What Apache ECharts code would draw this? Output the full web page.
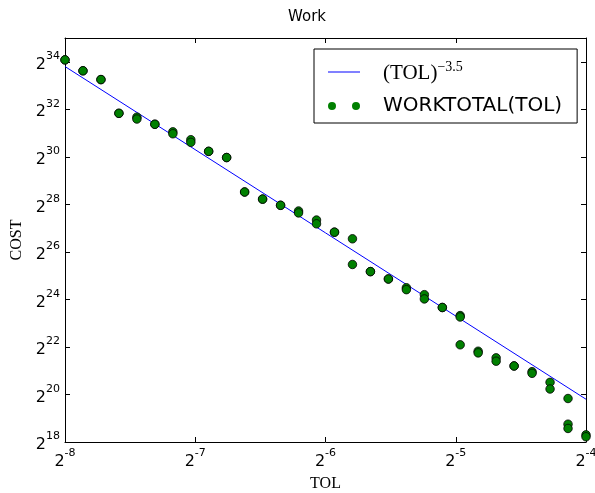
<!DOCTYPE html>
<html lang="en">

<head>
  <meta charset="UTF-8">
  <title>Work</title>
  <script src="https://cdn.jsdelivr.net/npm/echarts@6.0.0/dist/echarts.min.js"></script>
  <style>
    html,
    body {
      margin: 0;
      padding: 0;
      background-color: #fff;
    }

    #chart {
      width: 595px;
      height: 493px;
    }
  </style>
</head>

<body>
  <div id="chart"></div>
  <script>
    // log2 of TOL for each run point
    const tolExp = [-8, -7.862, -7.724, -7.586, -7.448, -7.31, -7.172, -7.034, -6.897, -6.759,
      -6.621, -6.483, -6.345, -6.207, -6.069, -5.931, -5.793, -5.655, -5.517, -5.379,
      -5.241, -5.103, -4.966, -4.828, -4.69, -4.552, -4.414, -4.276, -4.138, -4];
    // log2 of COST (three runs, null = no point)
    const costA = [34.08, 33.62, 33.25, 31.83, 31.67, 31.37, 31.05, 30.72, 30.23, 29.97,
      28.52, 28.22, 27.96, 27.72, 27.34, 26.83, 26.55, 25.17, 24.86, 24.49,
      24.2, 23.66, 23.32, 21.82, 21.54, 21.2, 20.96, 20.51, 19.83, 18.3];
    const costB = [34.08, 33.62, 33.25, 31.83, 31.59, 31.37, 30.97, 30.61, 30.23, 29.97,
      28.52, 28.22, 27.96, 27.64, 27.18, 26.83, 25.47, 25.17, 24.86, 24.41,
      24.02, 23.66, 23.26, 21.75, 21.4, 21.2, 20.89, 20.23, 18.75, 18.22];
    const costC = [null, null, null, null, null, null, null, null, null, null,
      null, null, null, null, null, null, null, null, null, null,
      null, null, 22.09, null, null, null, null, null, 18.57, null];
    // reference line (TOL)^-3.5, endpoints
    const lineTolExp = [-8, -4];
    const lineCostExp = [33.8, 19.8];

    const xTicksExp = [-8, -4];
    const yRangeExp = [18, 35];

    const lineName = '(TOL)^-3.5';
    const scatterName = 'WORKTOTAL(TOL)';

    const points = [];
    [costA, costB, costC].forEach(run => {
      run.forEach((c, i) => {
        if (c !== null) points.push([Math.pow(2, tolExp[i]), Math.pow(2, c)]);
      });
    });
    const linePoints = lineTolExp.map((e, i) => [Math.pow(2, e), Math.pow(2, lineCostExp[i])]);

    const sans = 'DejaVu Sans';
    const serif = 'Liberation Serif';

    const powLabel = v => '{b|2}{s|' + Math.round(Math.log2(v)) + '}';
    const labelRich = {
      b: { fontFamily: sans, fontSize: 16, color: '#000', verticalAlign: 'bottom', lineHeight: 22 },
      s: { fontFamily: sans, fontSize: 11, color: '#000', verticalAlign: 'top', lineHeight: 22 }
    };
    const tickStyle = { show: true, inside: true, length: 5, lineStyle: { color: '#000', width: 1 } };
    const lineAxis = { show: true, onZero: false, lineStyle: { color: '#000', width: 1 } };

    const chart = echarts.init(document.getElementById('chart'));
    chart.setOption({
      animation: false,
      title: {
        text: 'Work',
        left: 283,
        top: 5,
        textStyle: { fontFamily: sans, fontSize: 15, fontWeight: 'normal', color: '#000' }
      },
      grid: { left: 65, right: 9, top: 38, bottom: 51, outerBoundsMode: 'none' },
      legend: {
        orient: 'vertical',
        left: 314,
        top: 49,
        padding: [11, 15, 5, 14],
        itemGap: 10,
        itemWidth: 32,
        itemHeight: 8,
        borderColor: '#000',
        borderWidth: 1,
        backgroundColor: '#fff',
        selectedMode: false,
        data: [
          { name: lineName, icon: 'path://M0,0h64v2h-64z', symbolKeepAspect: true, itemStyle: { color: '#0000ff', borderWidth: 0 } },
          {
            name: scatterName,
            icon: 'path://M0,4a4,4 0 1,0 8,0a4,4 0 1,0 -8,0M24,4a4,4 0 1,0 8,0a4,4 0 1,0 -8,0',
            itemStyle: { color: '#008000', borderWidth: 0 }
          }
        ],
        formatter: name => name === lineName ? '{m|(TOL)}{e|\u22123.5}' : name,
        textStyle: {
          fontFamily: sans,
          fontSize: 20,
          color: '#000',
          lineHeight: 24,
          padding: [0, 0, 0, 18],
          rich: {
            m: { fontFamily: serif, fontSize: 21, color: '#000', verticalAlign: 'bottom', lineHeight: 24 },
            e: { fontFamily: serif, fontSize: 14, color: '#000', verticalAlign: 'top', lineHeight: 24 }
          }
        }
      },
      xAxis: [{
        type: 'log',
        logBase: 2,
        min: Math.pow(2, xTicksExp[0]),
        max: Math.pow(2, xTicksExp[1]),
        interval: 1,
        name: 'TOL',
        nameLocation: 'middle',
        nameGap: 34,
        nameTextStyle: { fontFamily: serif, fontSize: 16, color: '#000' },
        axisLine: lineAxis,
        axisTick: tickStyle,
        splitLine: { show: false },
        axisLabel: { formatter: powLabel, rich: labelRich, margin: 6 }
      }, {
        type: 'log',
        logBase: 2,
        position: 'top',
        min: Math.pow(2, xTicksExp[0]),
        max: Math.pow(2, xTicksExp[1]),
        interval: 1,
        axisLine: lineAxis,
        axisTick: tickStyle,
        splitLine: { show: false },
        axisLabel: { show: false }
      }],
      yAxis: [{
        type: 'log',
        logBase: 2,
        min: Math.pow(2, yRangeExp[0]),
        max: Math.pow(2, yRangeExp[1]),
        interval: 2,
        name: 'COST',
        nameLocation: 'middle',
        nameGap: 38,
        nameTextStyle: { fontFamily: serif, fontSize: 16, color: '#000' },
        axisLine: lineAxis,
        axisTick: tickStyle,
        splitLine: { show: false },
        axisLabel: { formatter: powLabel, rich: labelRich, margin: 5, showMaxLabel: false }
      }, {
        type: 'log',
        logBase: 2,
        position: 'right',
        min: Math.pow(2, yRangeExp[0]),
        max: Math.pow(2, yRangeExp[1]),
        interval: 2,
        axisLine: lineAxis,
        axisTick: tickStyle,
        splitLine: { show: false },
        axisLabel: { show: false }
      }],
      series: [{
        name: lineName,
        type: 'line',
        data: linePoints,
        symbol: 'none',
        lineStyle: { color: '#0000ff', width: 1 },
        itemStyle: { color: '#0000ff' },
        z: 2
      }, {
        name: scatterName,
        type: 'scatter',
        data: points,
        symbolSize: 8.5,
        itemStyle: { color: '#008000', borderColor: '#000', borderWidth: 0.8, opacity: 1 },
        z: 3
      }]
    });
  </script>
</body>

</html>
